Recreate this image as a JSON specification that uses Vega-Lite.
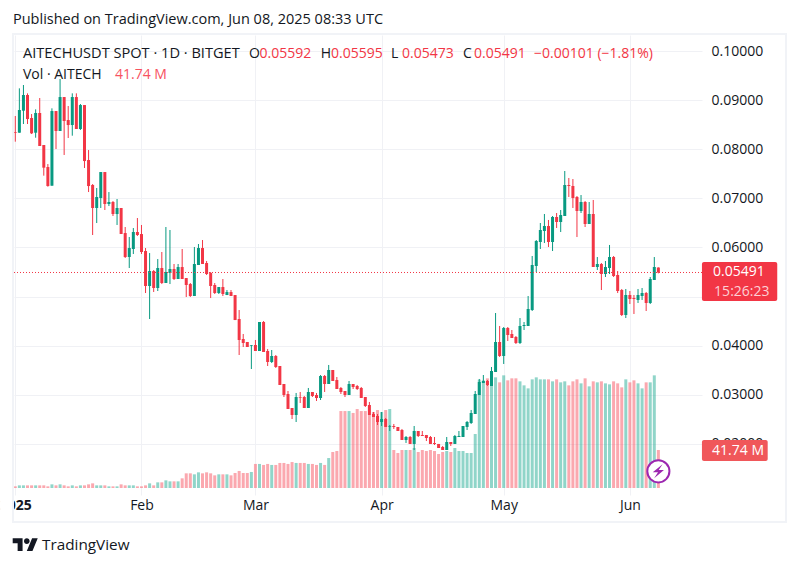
{
"$schema":"https://vega.github.io/schema/vega-lite/v6.json",
"width":688,"height":460,"autosize":"none","padding":{"left":14,"top":35,"right":97,"bottom":72},
"background":"white",
"config":{"view":{"stroke":null},"font":"Open Sans","text":{"font":"Open Sans"}},
"title":{"text":"Published on TradingView.com, Jun 08, 2025 08:33 UTC","anchor":"start","frame":"group","font":"Open Sans","fontSize":14.5,"fontWeight":"normal","color":"#131722","offset":6,"dx":-1},
"datasets":{
"labels":[
{"d":"2025-01-07T13:30:00Z","p":-0.00051,"t":"TradingView","kind":"logo"},
{"d":"2025-01-02T21:24:00Z","p":0.09939,"t":"AITECHUSDT SPOT · 1D · BITGET","kind":"series"},
{"d":"2025-02-27T10:00:00Z","p":0.09939,"t":"O","kind":"label"},
{"d":"2025-03-02T00:00:00Z","p":0.09939,"t":"0.05592","kind":"down"},
{"d":"2025-03-17T01:00:00Z","p":0.09939,"t":"H","kind":"label"},
{"d":"2025-03-19T14:00:00Z","p":0.09939,"t":"0.05595","kind":"down"},
{"d":"2025-04-03T07:36:00Z","p":0.09939,"t":"L","kind":"label"},
{"d":"2025-04-06T00:00:00Z","p":0.09939,"t":"0.05473","kind":"down"},
{"d":"2025-04-21T00:00:00Z","p":0.09939,"t":"C","kind":"label"},
{"d":"2025-04-23T17:00:00Z","p":0.09939,"t":"0.05491","kind":"down"},
{"d":"2025-05-08T11:00:00Z","p":0.09939,"t":"−0.00101 (−1.81%)","kind":"down"},
{"d":"2025-01-02T21:24:00Z","p":0.09511,"t":"Vol · AITECH","kind":"label"},
{"d":"2025-01-25T12:00:00Z","p":0.09511,"t":"41.74 M","kind":"vol"}
],
"tags":[
{"d":"2025-06-18T17:00:00Z","d2":"2025-07-07T05:00:00Z","p":0.05704,"p2":0.0491,"kind":"price"},
{"d":"2025-06-18T17:00:00Z","d2":"2025-07-04T20:40:00Z","p":0.0208,"p2":0.01653,"kind":"volume"}
],
"tagText":[
{"d":"2025-06-27T19:00:00Z","p":0.05491,"t":"0.05491","kind":"main"},
{"d":"2025-06-28T12:00:00Z","p":0.05095,"t":"15:26:23","kind":"timer"},
{"d":"2025-06-27T14:00:00Z","p":0.01866,"t":"41.74 M","kind":"main"}
],
"last":[{"p":0.05491}],
"cover":[{"d":"2024-12-28T06:00:00Z","d2":"2024-12-31T07:30:00Z","p":0.00961,"p2":0.00452}],
"frame":[{"d":"2024-12-31T10:26:00Z","d2":"2025-07-09T08:38:00Z","p":0.10346,"p2":0.00411}],
"badge":[{"d":"2025-06-08","p":0.01443}],
"logo":[{"d":"2025-01-03T11:30:00Z","p":-0.00051}],
"candles":[
{"d":"2025-01-01","o":0.08351,"h":0.08677,"l":0.08154,"c":0.08337,"v":1.8},
{"d":"2025-01-02","o":0.08337,"h":0.0924,"l":0.08337,"c":0.08799,"v":2.9},
{"d":"2025-01-03","o":0.08785,"h":0.09308,"l":0.08514,"c":0.09104,"v":2.9},
{"d":"2025-01-04","o":0.09104,"h":0.09138,"l":0.08514,"c":0.08615,"v":2.9},
{"d":"2025-01-05","o":0.08636,"h":0.08717,"l":0.0831,"c":0.08324,"v":2.9},
{"d":"2025-01-06","o":0.08337,"h":0.08812,"l":0.08235,"c":0.08738,"v":2.9},
{"d":"2025-01-07","o":0.08738,"h":0.09043,"l":0.08066,"c":0.08066,"v":2.9},
{"d":"2025-01-08","o":0.08086,"h":0.08086,"l":0.07462,"c":0.07625,"v":2.9},
{"d":"2025-01-09","o":0.07638,"h":0.07699,"l":0.07238,"c":0.07251,"v":1.8},
{"d":"2025-01-10","o":0.07258,"h":0.08833,"l":0.07258,"c":0.08778,"v":4.0},
{"d":"2025-01-11","o":0.08778,"h":0.08778,"l":0.08005,"c":0.08371,"v":2.9},
{"d":"2025-01-12","o":0.08371,"h":0.0943,"l":0.08371,"c":0.09063,"v":4.0},
{"d":"2025-01-13","o":0.09063,"h":0.09063,"l":0.07883,"c":0.08575,"v":2.9},
{"d":"2025-01-14","o":0.08595,"h":0.0888,"l":0.08229,"c":0.08493,"v":1.8},
{"d":"2025-01-15","o":0.08493,"h":0.09138,"l":0.08276,"c":0.09063,"v":2.9},
{"d":"2025-01-16","o":0.09063,"h":0.09138,"l":0.08412,"c":0.08412,"v":1.8},
{"d":"2025-01-17","o":0.08412,"h":0.08921,"l":0.08392,"c":0.089,"v":2.9},
{"d":"2025-01-18","o":0.089,"h":0.089,"l":0.07618,"c":0.0776,"v":2.9},
{"d":"2025-01-19","o":0.07781,"h":0.07984,"l":0.07129,"c":0.07251,"v":4.0},
{"d":"2025-01-20","o":0.07272,"h":0.07292,"l":0.06254,"c":0.06804,"v":5.1},
{"d":"2025-01-21","o":0.06804,"h":0.07211,"l":0.06498,"c":0.07028,"v":2.9},
{"d":"2025-01-22","o":0.07007,"h":0.07536,"l":0.06804,"c":0.07536,"v":2.9},
{"d":"2025-01-23","o":0.07536,"h":0.07536,"l":0.06763,"c":0.06885,"v":2.9},
{"d":"2025-01-24","o":0.06885,"h":0.07129,"l":0.06844,"c":0.06926,"v":1.8},
{"d":"2025-01-25","o":0.06926,"h":0.06946,"l":0.06641,"c":0.06681,"v":1.8},
{"d":"2025-01-26","o":0.06681,"h":0.06987,"l":0.06458,"c":0.06804,"v":1.8},
{"d":"2025-01-27","o":0.06804,"h":0.06804,"l":0.06274,"c":0.06274,"v":4.0},
{"d":"2025-01-28","o":0.06295,"h":0.06417,"l":0.05786,"c":0.05806,"v":2.9},
{"d":"2025-01-29","o":0.05806,"h":0.06213,"l":0.05582,"c":0.05989,"v":2.9},
{"d":"2025-01-30","o":0.05969,"h":0.06396,"l":0.05867,"c":0.06315,"v":2.9},
{"d":"2025-01-31","o":0.06315,"h":0.066,"l":0.06234,"c":0.06254,"v":1.8},
{"d":"2025-02-01","o":0.06274,"h":0.06458,"l":0.05867,"c":0.05908,"v":1.8},
{"d":"2025-02-02","o":0.05928,"h":0.05989,"l":0.05073,"c":0.05216,"v":2.9},
{"d":"2025-02-03","o":0.05216,"h":0.05887,"l":0.04544,"c":0.05521,"v":5.1},
{"d":"2025-02-04","o":0.05521,"h":0.05541,"l":0.05094,"c":0.05175,"v":2.9},
{"d":"2025-02-05","o":0.05175,"h":0.05765,"l":0.05114,"c":0.05582,"v":6.2},
{"d":"2025-02-06","o":0.05582,"h":0.05908,"l":0.05256,"c":0.05277,"v":6.2},
{"d":"2025-02-07","o":0.05277,"h":0.06417,"l":0.05277,"c":0.05501,"v":8.4},
{"d":"2025-02-08","o":0.0548,"h":0.06356,"l":0.05256,"c":0.05562,"v":7.3},
{"d":"2025-02-09","o":0.05562,"h":0.05664,"l":0.05338,"c":0.05358,"v":7.3},
{"d":"2025-02-10","o":0.05358,"h":0.05664,"l":0.05358,"c":0.05602,"v":7.3},
{"d":"2025-02-11","o":0.05602,"h":0.05969,"l":0.05358,"c":0.05358,"v":10.6},
{"d":"2025-02-12","o":0.05378,"h":0.05378,"l":0.04992,"c":0.05236,"v":16.1},
{"d":"2025-02-13","o":0.05256,"h":0.05277,"l":0.04992,"c":0.05012,"v":16.1},
{"d":"2025-02-14","o":0.05012,"h":0.0601,"l":0.05012,"c":0.05664,"v":15.0},
{"d":"2025-02-15","o":0.05643,"h":0.06071,"l":0.05643,"c":0.05989,"v":17.2},
{"d":"2025-02-16","o":0.05989,"h":0.06152,"l":0.05664,"c":0.05664,"v":16.1},
{"d":"2025-02-17","o":0.05684,"h":0.05725,"l":0.0544,"c":0.0546,"v":17.2},
{"d":"2025-02-18","o":0.0548,"h":0.05501,"l":0.04971,"c":0.05216,"v":16.1},
{"d":"2025-02-19","o":0.05236,"h":0.05277,"l":0.05053,"c":0.05073,"v":13.9},
{"d":"2025-02-20","o":0.05073,"h":0.05195,"l":0.05053,"c":0.05195,"v":15.0},
{"d":"2025-02-21","o":0.05195,"h":0.05358,"l":0.05012,"c":0.05053,"v":15.0},
{"d":"2025-02-22","o":0.05032,"h":0.05134,"l":0.05032,"c":0.05093,"v":15.0},
{"d":"2025-02-23","o":0.05093,"h":0.05134,"l":0.05012,"c":0.05012,"v":13.9},
{"d":"2025-02-24","o":0.05032,"h":0.05032,"l":0.04523,"c":0.04523,"v":16.5},
{"d":"2025-02-25","o":0.04544,"h":0.04727,"l":0.03811,"c":0.04117,"v":18.7},
{"d":"2025-02-26","o":0.04137,"h":0.04239,"l":0.03974,"c":0.04056,"v":16.5},
{"d":"2025-02-27","o":0.04076,"h":0.04076,"l":0.03974,"c":0.03974,"v":16.5},
{"d":"2025-02-28","o":0.04001,"h":0.04015,"l":0.03526,"c":0.04015,"v":17.6},
{"d":"2025-03-01","o":0.04015,"h":0.04117,"l":0.03893,"c":0.03893,"v":26.4},
{"d":"2025-03-02","o":0.03893,"h":0.04483,"l":0.03893,"c":0.04483,"v":26.4},
{"d":"2025-03-03","o":0.04483,"h":0.04503,"l":0.03872,"c":0.03872,"v":25.3},
{"d":"2025-03-04","o":0.03893,"h":0.03934,"l":0.03587,"c":0.03669,"v":26.4},
{"d":"2025-03-05","o":0.03669,"h":0.03913,"l":0.03648,"c":0.03791,"v":25.3},
{"d":"2025-03-06","o":0.03791,"h":0.03811,"l":0.03547,"c":0.03567,"v":25.3},
{"d":"2025-03-07","o":0.03587,"h":0.03587,"l":0.03201,"c":0.03201,"v":27.5},
{"d":"2025-03-08","o":0.03221,"h":0.03221,"l":0.02956,"c":0.02997,"v":27.5},
{"d":"2025-03-09","o":0.03017,"h":0.03078,"l":0.02712,"c":0.02712,"v":26.4},
{"d":"2025-03-10","o":0.02732,"h":0.02732,"l":0.02508,"c":0.0259,"v":28.5},
{"d":"2025-03-11","o":0.0259,"h":0.03038,"l":0.02447,"c":0.02956,"v":27.5},
{"d":"2025-03-12","o":0.02956,"h":0.03058,"l":0.02834,"c":0.02943,"v":27.5},
{"d":"2025-03-13","o":0.02956,"h":0.02977,"l":0.02732,"c":0.02732,"v":27.5},
{"d":"2025-03-14","o":0.02732,"h":0.0314,"l":0.02732,"c":0.03058,"v":26.4},
{"d":"2025-03-15","o":0.03058,"h":0.03058,"l":0.02956,"c":0.02977,"v":26.4},
{"d":"2025-03-16","o":0.02997,"h":0.03038,"l":0.02875,"c":0.02936,"v":25.3},
{"d":"2025-03-17","o":0.02936,"h":0.03404,"l":0.02895,"c":0.03384,"v":27.5},
{"d":"2025-03-18","o":0.03384,"h":0.03404,"l":0.03058,"c":0.03221,"v":25.3},
{"d":"2025-03-19","o":0.03221,"h":0.03608,"l":0.03221,"c":0.03506,"v":32.9},
{"d":"2025-03-20","o":0.03506,"h":0.03506,"l":0.03282,"c":0.03282,"v":39.5},
{"d":"2025-03-21","o":0.03302,"h":0.03363,"l":0.03119,"c":0.03119,"v":40.6},
{"d":"2025-03-22","o":0.0314,"h":0.0316,"l":0.03017,"c":0.03058,"v":84.5},
{"d":"2025-03-23","o":0.03078,"h":0.03078,"l":0.02956,"c":0.02997,"v":84.5},
{"d":"2025-03-24","o":0.02997,"h":0.03282,"l":0.02997,"c":0.03221,"v":84.5},
{"d":"2025-03-25","o":0.03221,"h":0.03221,"l":0.03119,"c":0.0316,"v":82.4},
{"d":"2025-03-26","o":0.0318,"h":0.03201,"l":0.03099,"c":0.03119,"v":86.7},
{"d":"2025-03-27","o":0.0314,"h":0.0316,"l":0.02936,"c":0.02936,"v":84.5},
{"d":"2025-03-28","o":0.02956,"h":0.02956,"l":0.02753,"c":0.02773,"v":84.5},
{"d":"2025-03-29","o":0.02793,"h":0.02855,"l":0.0259,"c":0.0259,"v":80.2},
{"d":"2025-03-30","o":0.0261,"h":0.02651,"l":0.02549,"c":0.02549,"v":83.4},
{"d":"2025-03-31","o":0.02569,"h":0.0261,"l":0.02386,"c":0.02447,"v":85.6},
{"d":"2025-04-01","o":0.02447,"h":0.02651,"l":0.02366,"c":0.02508,"v":83.4},
{"d":"2025-04-02","o":0.02508,"h":0.02529,"l":0.02346,"c":0.02346,"v":85.6},
{"d":"2025-04-03","o":0.02352,"h":0.02386,"l":0.02264,"c":0.02366,"v":86.7},
{"d":"2025-04-04","o":0.02366,"h":0.02407,"l":0.02305,"c":0.02346,"v":41.7},
{"d":"2025-04-05","o":0.02346,"h":0.02346,"l":0.02264,"c":0.02264,"v":38.4},
{"d":"2025-04-06","o":0.02284,"h":0.02305,"l":0.02081,"c":0.02081,"v":41.7},
{"d":"2025-04-07","o":0.02081,"h":0.02162,"l":0.0202,"c":0.02142,"v":41.7},
{"d":"2025-04-08","o":0.02142,"h":0.02162,"l":0.02,"c":0.02,"v":41.7},
{"d":"2025-04-09","o":0.02,"h":0.02366,"l":0.01877,"c":0.02264,"v":43.9},
{"d":"2025-04-10","o":0.02264,"h":0.02264,"l":0.02142,"c":0.02162,"v":39.5},
{"d":"2025-04-11","o":0.02183,"h":0.02264,"l":0.02162,"c":0.02162,"v":41.7},
{"d":"2025-04-12","o":0.02183,"h":0.02183,"l":0.0206,"c":0.02122,"v":40.6},
{"d":"2025-04-13","o":0.02142,"h":0.02162,"l":0.02,"c":0.02,"v":41.7},
{"d":"2025-04-14","o":0.0202,"h":0.02142,"l":0.01979,"c":0.02,"v":40.6},
{"d":"2025-04-15","o":0.02,"h":0.02,"l":0.01918,"c":0.01918,"v":37.3},
{"d":"2025-04-16","o":0.01938,"h":0.01959,"l":0.01877,"c":0.01877,"v":39.5},
{"d":"2025-04-17","o":0.01877,"h":0.02142,"l":0.01877,"c":0.0204,"v":40.6},
{"d":"2025-04-18","o":0.0204,"h":0.0204,"l":0.01959,"c":0.02,"v":39.5},
{"d":"2025-04-19","o":0.02,"h":0.02183,"l":0.02,"c":0.02162,"v":43.9},
{"d":"2025-04-20","o":0.02142,"h":0.02264,"l":0.02142,"c":0.02162,"v":40.6},
{"d":"2025-04-21","o":0.02142,"h":0.02366,"l":0.02142,"c":0.02366,"v":40.6},
{"d":"2025-04-22","o":0.02346,"h":0.02468,"l":0.02284,"c":0.02447,"v":38.4},
{"d":"2025-04-23","o":0.02427,"h":0.02692,"l":0.02407,"c":0.02631,"v":38.4},
{"d":"2025-04-24","o":0.0261,"h":0.03078,"l":0.0261,"c":0.03017,"v":59.3},
{"d":"2025-04-25","o":0.02997,"h":0.03323,"l":0.02997,"c":0.03262,"v":119.0},
{"d":"2025-04-26","o":0.03241,"h":0.03404,"l":0.03241,"c":0.03282,"v":118.2},
{"d":"2025-04-27","o":0.03282,"h":0.03302,"l":0.0318,"c":0.032,"v":120.4},
{"d":"2025-04-28","o":0.0318,"h":0.03567,"l":0.0318,"c":0.03485,"v":123.7},
{"d":"2025-04-29","o":0.03465,"h":0.04666,"l":0.03465,"c":0.04076,"v":121.5},
{"d":"2025-04-30","o":0.04076,"h":0.04402,"l":0.03771,"c":0.03791,"v":116.0},
{"d":"2025-05-01","o":0.03791,"h":0.04381,"l":0.03628,"c":0.04361,"v":123.7},
{"d":"2025-05-02","o":0.04361,"h":0.04381,"l":0.04096,"c":0.04218,"v":118.2},
{"d":"2025-05-03","o":0.04239,"h":0.0432,"l":0.04157,"c":0.04157,"v":120.4},
{"d":"2025-05-04","o":0.04178,"h":0.04198,"l":0.04035,"c":0.04056,"v":120.4},
{"d":"2025-05-05","o":0.04056,"h":0.04564,"l":0.04035,"c":0.04402,"v":117.1},
{"d":"2025-05-06","o":0.04402,"h":0.04483,"l":0.0432,"c":0.04422,"v":112.7},
{"d":"2025-05-07","o":0.04402,"h":0.05012,"l":0.04402,"c":0.04748,"v":109.4},
{"d":"2025-05-08","o":0.04727,"h":0.05827,"l":0.04707,"c":0.05643,"v":119.3},
{"d":"2025-05-09","o":0.05623,"h":0.06152,"l":0.05501,"c":0.06132,"v":121.5},
{"d":"2025-05-10","o":0.06112,"h":0.06498,"l":0.05969,"c":0.06356,"v":119.3},
{"d":"2025-05-11","o":0.06336,"h":0.06682,"l":0.06091,"c":0.06437,"v":119.3},
{"d":"2025-05-12","o":0.06437,"h":0.0656,"l":0.0601,"c":0.06112,"v":119.3},
{"d":"2025-05-13","o":0.06112,"h":0.06641,"l":0.05928,"c":0.06621,"v":117.1},
{"d":"2025-05-14","o":0.06621,"h":0.06702,"l":0.06397,"c":0.06519,"v":119.3},
{"d":"2025-05-15","o":0.06519,"h":0.06763,"l":0.06315,"c":0.06661,"v":116.0},
{"d":"2025-05-16","o":0.06641,"h":0.07557,"l":0.06641,"c":0.07272,"v":117.1},
{"d":"2025-05-17","o":0.07272,"h":0.07415,"l":0.07028,"c":0.07252,"v":112.7},
{"d":"2025-05-18","o":0.07252,"h":0.07394,"l":0.06804,"c":0.07007,"v":117.1},
{"d":"2025-05-19","o":0.07028,"h":0.07048,"l":0.06213,"c":0.06743,"v":119.3},
{"d":"2025-05-20","o":0.06743,"h":0.07068,"l":0.06702,"c":0.06926,"v":114.9},
{"d":"2025-05-21","o":0.06926,"h":0.06946,"l":0.06417,"c":0.06478,"v":120.4},
{"d":"2025-05-22","o":0.06478,"h":0.06926,"l":0.06478,"c":0.06682,"v":111.6},
{"d":"2025-05-23","o":0.06682,"h":0.06967,"l":0.05603,"c":0.05603,"v":117.1},
{"d":"2025-05-24","o":0.05603,"h":0.05806,"l":0.05542,"c":0.05664,"v":116.0},
{"d":"2025-05-25","o":0.05664,"h":0.05684,"l":0.05134,"c":0.0546,"v":117.1},
{"d":"2025-05-26","o":0.0546,"h":0.05725,"l":0.05399,"c":0.05603,"v":114.9},
{"d":"2025-05-27","o":0.05582,"h":0.06051,"l":0.0546,"c":0.05806,"v":113.8},
{"d":"2025-05-28","o":0.05806,"h":0.05827,"l":0.05399,"c":0.05419,"v":117.1},
{"d":"2025-05-29","o":0.0544,"h":0.05521,"l":0.05073,"c":0.05114,"v":114.9},
{"d":"2025-05-30","o":0.05134,"h":0.05155,"l":0.04605,"c":0.04625,"v":110.5},
{"d":"2025-05-31","o":0.04625,"h":0.05155,"l":0.04564,"c":0.05033,"v":119.3},
{"d":"2025-06-01","o":0.05033,"h":0.05114,"l":0.04849,"c":0.04951,"v":116.0},
{"d":"2025-06-02","o":0.04971,"h":0.05033,"l":0.04646,"c":0.04951,"v":118.2},
{"d":"2025-06-03","o":0.04931,"h":0.05155,"l":0.0487,"c":0.05033,"v":114.9},
{"d":"2025-06-04","o":0.05012,"h":0.05175,"l":0.04931,"c":0.05073,"v":109.4},
{"d":"2025-06-05","o":0.05073,"h":0.05094,"l":0.04707,"c":0.0487,"v":116.0},
{"d":"2025-06-06","o":0.0487,"h":0.05399,"l":0.04849,"c":0.05358,"v":116.0},
{"d":"2025-06-07","o":0.05338,"h":0.05806,"l":0.05338,"c":0.05603,"v":123.7},
{"d":"2025-06-08","o":0.05592,"h":0.05595,"l":0.05473,"c":0.05491,"v":41.74}
]},
"data":{"name":"candles"},
"encoding":{"x":{"field":"d","type":"temporal","title":null,
"scale":{"type":"utc","nice":false,"padding":0,"domain":["2024-12-31T16:19:00Z","2025-06-18T17:17:00Z"]},
"axis":{"values":["2025-01-01","2025-02-01","2025-03-01","2025-04-01","2025-05-01","2025-06-01"],"labelExpr":"utcmonth(datum.value)==0?'2025':utcFormat(datum.value,'%b')","labelFontWeight":{"expr":"utcmonth(datum.value)==0?'bold':'normal'"},"domain":false,"ticks":false,"grid":true,"gridColor":"#f0f1f5","labelColor":"#131722","labelFont":"Open Sans","labelFontSize":14,"labelPadding":3,"labelOverlap":false,"labelBound":false,"labelFlush":false}}},
"layer":[
{"mark":{"type":"bar","size":3,"opacity":0.5},
"encoding":{"y":{"field":"v","type":"quantitative","axis":null,"scale":{"nice":false,"padding":0,"domain":[-7.69,497.4]}},
"color":{"condition":{"test":"datum.c>=datum.o","value":"#22AB94"},"value":"#F7525F"}}},
{"layer":[
{"mark":{"type":"rule","strokeWidth":1},
"encoding":{"y":{"field":"l","type":"quantitative","title":null,"scale":{"nice":false,"zero":false,"padding":0,"domain":[0.00961,0.10326]},
"axis":{"orient":"right","values":[0.02,0.03,0.04,0.05,0.06,0.07,0.08,0.09,0.10],"format":".5f","domain":false,"ticks":false,"grid":true,"gridColor":"#f0f1f5","labelColor":"#131722","labelFont":"Open Sans","labelFontSize":14,"labelPadding":9}},
"y2":{"field":"h"},
"color":{"condition":{"test":"datum.c>=datum.o","value":"#089981"},"value":"#F23645"}}},
{"mark":{"type":"bar","size":3},
"encoding":{"y":{"field":"o","type":"quantitative"},"y2":{"field":"c"},
"color":{"condition":{"test":"datum.c>=datum.o","value":"#089981"},"value":"#F23645"}}},
{"data":{"name":"last"},"mark":{"type":"rule","strokeWidth":1,"strokeDash":[1,2]},
"encoding":{"x":null,"y":{"field":"p","type":"quantitative"},"color":{"value":"#F23645"}}},
{"data":{"name":"cover"},"mark":{"type":"rect","color":"white"},
"encoding":{"x2":{"field":"d2"},"y":{"field":"p","type":"quantitative"},"y2":{"field":"p2"}}},
{"data":{"name":"frame"},"mark":{"type":"rect","filled":false,"stroke":"#f1f3f7","strokeWidth":2},
"encoding":{"x2":{"field":"d2"},"y":{"field":"p","type":"quantitative"},"y2":{"field":"p2"}}},
{"data":{"name":"tags"},"mark":{"type":"rect","cornerRadius":2},
"encoding":{"x2":{"field":"d2"},"y":{"field":"p","type":"quantitative"},"y2":{"field":"p2"},
"color":{"field":"kind","type":"nominal","legend":null,"scale":{"domain":["price","volume"],"range":["#F23645","#F0575A"]}}}},
{"data":{"name":"tagText"},"mark":{"type":"text","fontSize":14,"font":"Open Sans"},
"encoding":{"y":{"field":"p","type":"quantitative"},"text":{"field":"t"},
"fontWeight":{"condition":{"test":"datum.kind=='main'","value":"bold"},"value":"normal"},
"color":{"condition":{"test":"datum.kind=='main'","value":"white"},"value":"#fcd0d5"}}},
{"data":{"name":"labels"},"mark":{"type":"text","align":"left","font":"Open Sans"},
"encoding":{"y":{"field":"p","type":"quantitative"},"text":{"field":"t"},
"size":{"condition":[{"test":"datum.kind=='series'","value":14.6},{"test":"datum.kind=='logo'","value":15.3}],"value":14},
"color":{"condition":[{"test":"datum.kind=='down'","value":"#F23645"},{"test":"datum.kind=='vol'","value":"#F7525F"}],"value":"#131722"}}},
{"data":{"name":"badge"},"mark":{"type":"point","shape":"circle","filled":true,"fill":"white","stroke":"#9C27B0","strokeWidth":2,"size":490,"opacity":1},
"encoding":{"y":{"field":"p","type":"quantitative"}}},
{"data":{"name":"badge"},"mark":{"type":"point","shape":"M0.6,-1L-0.8,0.15L-0.05,0.15L-0.6,1L0.8,-0.2L0.05,-0.2Z","filled":true,"fill":"#9C27B0","strokeWidth":0,"size":196,"opacity":1},
"encoding":{"y":{"field":"p","type":"quantitative"}}},
{"data":{"name":"logo"},"mark":{"type":"point","shape":"M-1,-0.5L-0.222,-0.5L-0.222,0.5L-0.611,0.5L-0.611,-0.111L-1,-0.111ZM0.556,0.5L0.111,0.5L0.528,-0.5L0.972,-0.5ZM-0.111,-0.278a0.222,0.222 0 1 0 0.444,0a0.222,0.222 0 1 0 -0.444,0Z","filled":true,"fill":"#131722","strokeWidth":0,"size":645,"opacity":1},
"encoding":{"y":{"field":"p","type":"quantitative"}}}
]}
],
"resolve":{"scale":{"y":"independent"}}
}
